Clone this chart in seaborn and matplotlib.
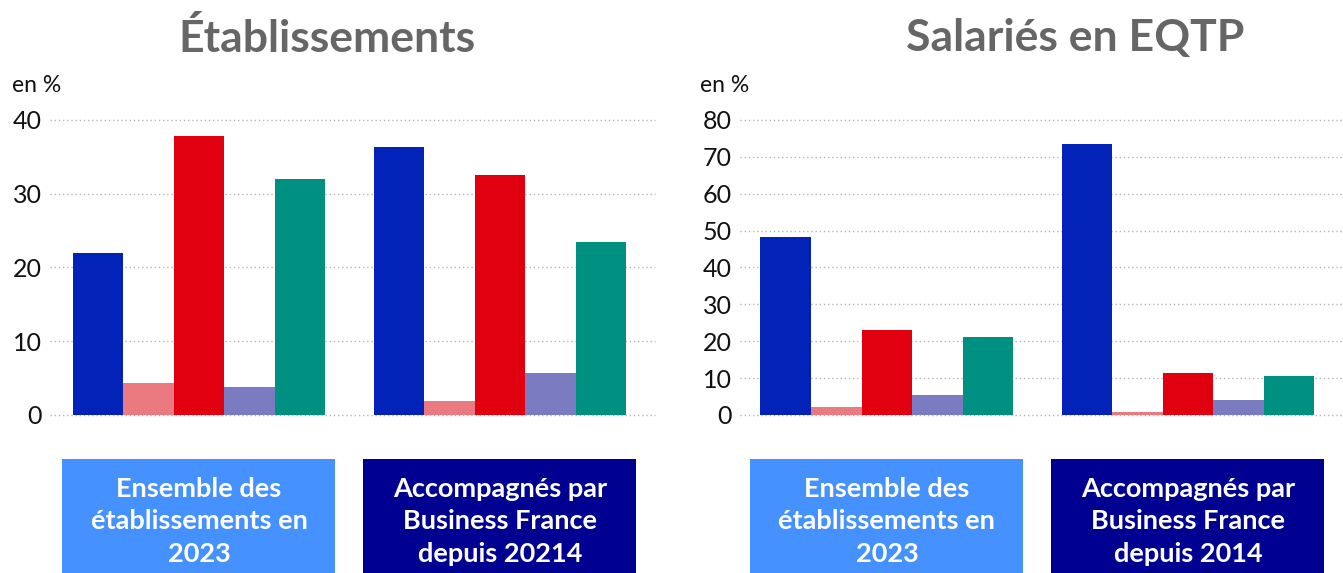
import pandas as pd
import numpy as np
import matplotlib.pyplot as plt
import seaborn as sns
from matplotlib.patches import Rectangle

sns.set_theme(style="white")
plt.rcParams['font.family'] = ['Lato', 'DejaVu Sans']

# data (en %)
series = ['Série 1', 'Série 2', 'Série 3', 'Série 4', 'Série 5']
colors = ['#0323B8', '#EB7A80', '#E1000F', '#7B7BC2', '#009081']

groups_etab = ['Ensemble des\nétablissements en\n2023', 'Accompagnés par\nBusiness France\ndepuis 20214']
groups_sal = ['Ensemble des\nétablissements en\n2023', 'Accompagnés par\nBusiness France\ndepuis 2014']

etab_ensemble = [22.0, 4.4, 37.8, 3.8, 32.0]
etab_accomp = [36.3, 1.9, 32.5, 5.7, 23.5]
sal_ensemble = [48.3, 2.2, 23.0, 5.4, 21.2]
sal_accomp = [73.5, 0.9, 11.4, 4.1, 10.6]

box_colors = ['#4591FF', '#000091']


def long_table(groups, first, second):
    rows = []
    for g, vals in zip(groups, [first, second]):
        for s, v in zip(series, vals):
            rows.append({'groupe': g, 'serie': s, 'valeur': v})
    return pd.DataFrame(rows)


fig = plt.figure(figsize=(13.43, 5.73), dpi=100)
ax1 = fig.add_axes([50 / 1343, 158 / 573, 605 / 1343, 298.7 / 573])
ax2 = fig.add_axes([740 / 1343, 158 / 573, 603 / 1343, 298.7 / 573])

panels = [
    (ax1, long_table(groups_etab, etab_ensemble, etab_accomp), groups_etab, 40, 10, (-0.495, 1.515)),
    (ax2, long_table(groups_sal, sal_ensemble, sal_accomp), groups_sal, 80, 10, (-0.488, 1.515)),
]

for ax, df, groups, ymax, step, xl in panels:
    sns.barplot(data=df, x='groupe', y='valeur', hue='serie', order=groups,
                hue_order=series, palette=colors, width=0.84, saturation=1,
                edgecolor='none', linewidth=0, legend=False, ax=ax, zorder=3)
    ax.set_xlim(*xl)
    ax.set_ylim(0, ymax * 1.0125)
    ax.set_yticks(np.arange(0, ymax + 1, step))
    ax.yaxis.grid(True, linestyle=(0, (1, 2)), color='#b5b5b5', linewidth=1, zorder=0)
    for gl in ax.get_ygridlines():
        gl.set_clip_on(False)
    ax.set_axisbelow(True)
    for sp in ax.spines.values():
        sp.set_visible(False)
    ax.tick_params(axis='y', length=0, pad=6, labelsize=18, labelcolor='#111111')
    ax.set_xticks([])
    ax.set_xlabel('')
    ax.set_ylabel('')
    # category label boxes below the bars
    tr = ax.get_xaxis_transform()
    for i, g in enumerate(groups):
        ax.add_patch(Rectangle((i - 0.4535, -0.56), 0.907, 0.413, transform=tr,
                               facecolor=box_colors[i], edgecolor='none', clip_on=False))
        ax.text(i, -0.356, g, transform=tr, ha='center', va='center', color='white',
                fontsize=19.5, fontweight='bold', linespacing=1.42)

fig.text(327 / 1343, 1 - 38 / 573, 'Établissements', ha='center', va='center',
         fontsize=32, fontweight='bold', color='#666666')
fig.text(1075 / 1343, 1 - 38 / 573, 'Salariés en EQTP', ha='center', va='center',
         fontsize=32, fontweight='bold', color='#666666')
fig.text(12 / 1343, 1 - 85 / 573, 'en %', ha='left', va='center', fontsize=16.5, color='#111111')
fig.text(700 / 1343, 1 - 85 / 573, 'en %', ha='left', va='center', fontsize=16.5, color='#111111')

fig.savefig('out.png', dpi=100)
